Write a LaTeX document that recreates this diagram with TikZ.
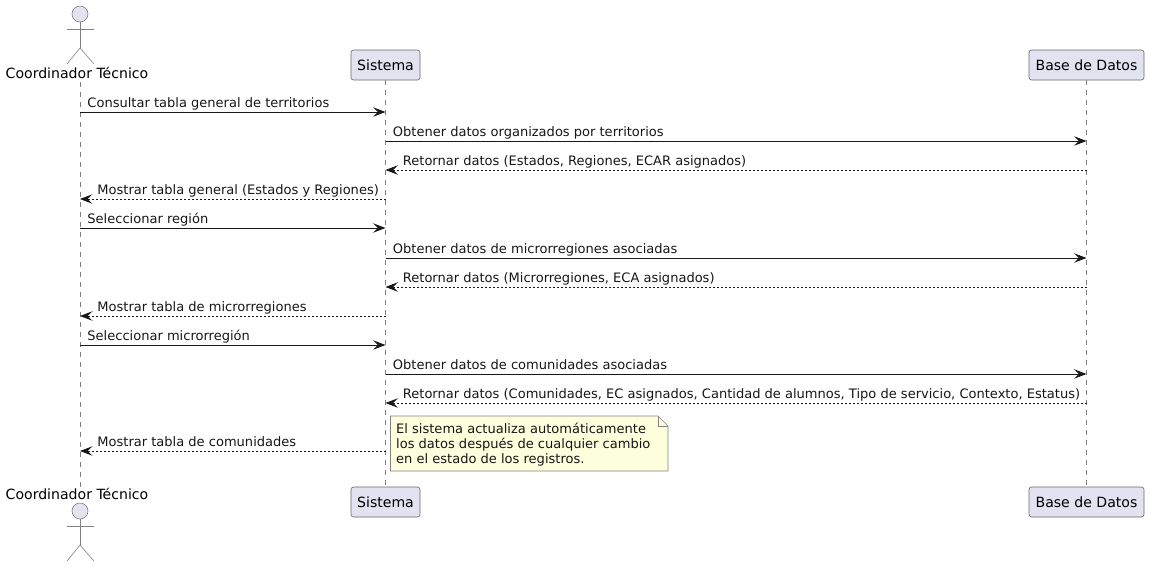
\documentclass[tikz,border=0pt]{standalone}
\usepackage{fontspec}
\setmainfont{DejaVu Sans}
\usetikzlibrary{arrows.meta}
\definecolor{boxfill}{HTML}{E2E2F0}
\definecolor{linecol}{HTML}{181818}
\definecolor{notefill}{HTML}{FEFFDD}
\tikzset{
  lifeline/.style={draw=linecol!55,line width=.6pt,dash pattern=on 5pt off 5pt},
  partbox/.style={draw=linecol!65,fill=boxfill,line width=.6pt,rounded corners=2.5pt,minimum height=30pt,inner sep=0pt,font=\fontsize{14.08}{16}\selectfont,text=black},
  actorline/.style={draw=linecol!55,line width=.6pt},
  actorhead/.style={circle,draw=linecol!55,fill=boxfill,line width=.6pt,minimum size=16pt,inner sep=0pt},
  actorname/.style={inner sep=0pt,font=\fontsize{14.08}{16}\selectfont,text=black},
  msg/.style={draw=linecol,line width=.9pt,-{Stealth[length=12.5pt,width=9.5pt,inset=5pt]}},
  msgback/.style={msg,line width=.8pt,dash pattern=on 2pt off 2pt},
  msgtxt/.style={inner sep=0pt,anchor=base west,font=\fontsize{13.03}{15}\selectfont,text=linecol!90!black},
  fwdtxt/.style={msgtxt,pos=0,xshift=7pt,yshift=5pt},
  backtxt/.style={msgtxt,pos=1,xshift=17pt,yshift=5pt},
  notetxt/.style={inner sep=0pt,anchor=base west,font=\fontsize{13.03}{15}\selectfont,text=linecol!90!black}
}
\begin{document}
\begin{tikzpicture}[x=1pt,y=-1pt]
\useasboundingbox (0,0) rectangle (1149,566);

% participants
\node[actorhead] (tecnicoHead) at (80,14) {};
\node[actorname] (tecnicoTop) at (77,73) {Coordinador Técnico};
\node[partbox,minimum width=69pt] (sistemaTop) at (385.5,65) {Sistema};
\node[partbox,minimum width=115pt] (baseTop) at (1086.5,65) {Base de Datos};
\node[actorhead] (tecnicoFoot) at (80,511) {};
\node[actorname] (tecnicoBot) at (77,494) {Coordinador Técnico};
\node[partbox,minimum width=69pt] (sistemaBot) at (385.5,502) {Sistema};
\node[partbox,minimum width=115pt] (baseBot) at (1086.5,502) {Base de Datos};

% actors
\coordinate (armTopL) at (67,29);
\coordinate (armTopR) at (94,29);
\coordinate (hipTop) at (80,48);
\coordinate (legTopL) at (67,64);
\coordinate (legTopR) at (94,64);
\draw[actorline] (tecnicoHead) -- (hipTop);
\draw[actorline] (armTopL) -- (armTopR);
\draw[actorline] (legTopL) -- (hipTop) -- (legTopR);
\coordinate (armBotL) at (67,526);
\coordinate (armBotR) at (94,526);
\coordinate (hipBot) at (80,545);
\coordinate (legBotL) at (67,561);
\coordinate (legBotR) at (94,561);
\draw[actorline] (tecnicoFoot) -- (hipBot);
\draw[actorline] (armBotL) -- (armBotR);
\draw[actorline] (legBotL) -- (hipBot) -- (legBotR);

% lifelines
\coordinate (tecnicoA) at (80,82);
\coordinate (tecnicoB) at (80,487);
\draw[lifeline] (tecnicoA) -- (tecnicoB);
\draw[lifeline] (sistemaTop) -- (sistemaBot);
\draw[lifeline] (baseTop) -- (baseBot);

% rows
\foreach \n/\y in {1/112,2/141,3/170,4/199,5/228,6/258,7/287,8/316,9/345,10/374,11/403,12/451}
  \coordinate (row\n) at (0,\y);

% messages
\draw[msg] (tecnicoA|-row1) -- (sistemaTop|-row1) node[fwdtxt] (m1) {Consultar tabla general de territorios};
\draw[msg] (sistemaTop|-row2) -- (baseTop|-row2) node[fwdtxt] (m2) {Obtener datos organizados por territorios};
\draw[msgback] (baseTop|-row3) -- (sistemaTop|-row3) node[backtxt] (m3) {Retornar datos (Estados, Regiones, ECAR asignados)};
\draw[msgback] (sistemaTop|-row4) -- (tecnicoA|-row4) node[backtxt] (m4) {Mostrar tabla general (Estados y Regiones)};
\draw[msg] (tecnicoA|-row5) -- (sistemaTop|-row5) node[fwdtxt] (m5) {Seleccionar región};
\draw[msg] (sistemaTop|-row6) -- (baseTop|-row6) node[fwdtxt] (m6) {Obtener datos de microrregiones asociadas};
\draw[msgback] (baseTop|-row7) -- (sistemaTop|-row7) node[backtxt] (m7) {Retornar datos (Microrregiones, ECA asignados)};
\draw[msgback] (sistemaTop|-row8) -- (tecnicoA|-row8) node[backtxt] (m8) {Mostrar tabla de microrregiones};
\draw[msg] (tecnicoA|-row9) -- (sistemaTop|-row9) node[fwdtxt] (m9) {Seleccionar microrregión};
\draw[msg] (sistemaTop|-row10) -- (baseTop|-row10) node[fwdtxt] (m10) {Obtener datos de comunidades asociadas};
\draw[msgback] (baseTop|-row11) -- (sistemaTop|-row11) node[backtxt] (m11) {Retornar datos (Comunidades, EC asignados, Cantidad de alumnos, Tipo de servicio, Contexto, Estatus)};
\draw[msgback] (sistemaTop|-row12) -- (tecnicoA|-row12) node[backtxt] (m12) {Mostrar tabla de comunidades};

% note
\draw[draw=linecol!55,fill=notefill,line width=.6pt] (390.5,416) -- (390.5,471) -- (668,471) -- (668,426) -- (658,416) -- cycle;
\draw[draw=linecol!55,line width=.6pt] (658,416) -- (658,426) -- (668,426);
\node[notetxt] (note1) at (396,433.5) {El sistema actualiza automáticamente};
\node[notetxt] (note2) at (396,448.7) {los datos después de cualquier cambio};
\node[notetxt] (note3) at (396,463.9) {en el estado de los registros.};
\end{tikzpicture}
\end{document}
